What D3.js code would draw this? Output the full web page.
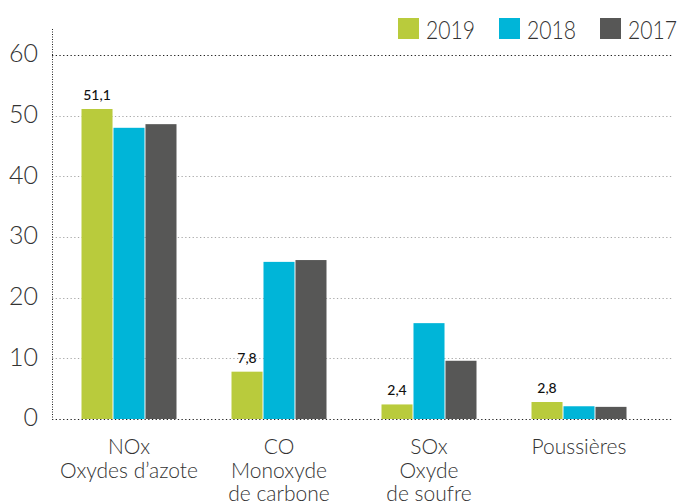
<!DOCTYPE html>
<html>
<head>
<meta charset="utf-8">
<script src="https://cdn.jsdelivr.net/npm/d3@7"></script>
<style>
  body { margin: 0; background: #fff; }
  text { font-family: Lato, "Open Sans", sans-serif; }
</style>
</head>
<body>
<div id="chart"></div>
<script>
// data
let categories = ['NOx', 'CO', 'SOx', 'Poussières']
let categoryLines = [
  ['NOx', 'Oxydes d’azote'],
  ['CO', 'Monoxyde', 'de carbone'],
  ['SOx', 'Oxyde', 'de soufre'],
  ['Poussières']
]
let years = ['2019', '2018', '2017']
let values2019 = [51.1, 7.8, 2.4, 2.8]
let values2018 = [48.0, 25.9, 15.8, 2.1]
let values2017 = [48.6, 26.2, 9.6, 2.0]
let labels2019 = ['51,1', '7,8', '2,4', '2,8']
let yTicks = [0, 10, 20, 30, 40, 50, 60]

let colors = { '2019': '#b9cb3c', '2018': '#00b5d8', '2017': '#575756' }

let width = 678, height = 503

let svg = d3.select('#chart').append('svg')
  .attr('width', width)
  .attr('height', height)

let y = d3.scaleLinear().domain([0, 60]).range([419, 55])

let x0 = d3.scaleBand()
  .domain(categories)
  .range([54, 654])
  .paddingInner(0)
  .paddingOuter(0)

let x1 = d3.scaleBand()
  .domain(years)
  .range([(x0.bandwidth() - 95) / 2, (x0.bandwidth() + 95) / 2])
  .paddingInner(0.03)

let axisLeft = 52, axisRight = 673

// gridlines
svg.append('g').selectAll('line')
  .data(yTicks.filter(t => t > 0))
  .join('line')
  .attr('x1', axisLeft)
  .attr('x2', axisRight)
  .attr('y1', d => Math.round(y(d)) + 0.5)
  .attr('y2', d => Math.round(y(d)) + 0.5)
  .attr('stroke', d => d === 60 ? '#222' : '#aaa')
  .attr('stroke-width', 1)
  .attr('stroke-dasharray', '1.3,2.4')

// y tick labels
svg.append('g').selectAll('text')
  .data(yTicks)
  .join('text')
  .attr('x', 38)
  .attr('y', d => y(d) + 1)
  .attr('text-anchor', 'end')
  .attr('dominant-baseline', 'middle')
  .attr('font-size', 25)
  .attr('font-weight', 300)
  .attr('fill', '#333')
  .text(d => d)

// bars
let rows = [values2019, values2018, values2017]
let groups = svg.append('g').selectAll('g')
  .data(categories)
  .join('g')
  .attr('transform', d => `translate(${x0(d)},0)`)

groups.selectAll('rect')
  .data((d, ci) => years.map((yr, yi) => ({ year: yr, value: rows[yi][ci] })))
  .join('rect')
  .attr('x', d => x1(d.year))
  .attr('width', x1.bandwidth())
  .attr('y', d => y(d.value))
  .attr('height', d => y(0) - y(d.value))
  .attr('fill', d => colors[d.year])

// value labels for 2019
groups.append('text')
  .attr('x', x1('2019') + x1.bandwidth() / 2)
  .attr('y', (d, i) => y(values2019[i]) - 9)
  .attr('text-anchor', 'middle')
  .attr('font-size', 14)
  .attr('font-weight', 500)
  .attr('font-family', '"Open Sans", sans-serif')
  .attr('fill', '#111')
  .text((d, i) => labels2019[i])

// baseline and y axis line
svg.append('line')
  .attr('x1', axisLeft).attr('x2', axisRight)
  .attr('y1', y(0) + 0.5).attr('y2', y(0) + 0.5)
  .attr('stroke', '#222')
  .attr('stroke-dasharray', '1.3,2.4')

svg.append('line')
  .attr('x1', axisLeft + 0.5).attr('x2', axisLeft + 0.5)
  .attr('y1', 29).attr('y2', y(0))
  .attr('stroke', '#222')
  .attr('stroke-dasharray', '1,1.5')

// category labels
let catLabels = svg.append('g').selectAll('text')
  .data(categories)
  .join('text')
  .attr('x', d => x0(d) + x0.bandwidth() / 2)
  .attr('y', 454)
  .attr('text-anchor', 'middle')
  .attr('font-size', 21)
  .attr('font-weight', 300)
  .attr('fill', '#333')

catLabels.selectAll('tspan')
  .data((d, i) => categoryLines[i])
  .join('tspan')
  .attr('x', function () { return d3.select(this.parentNode).attr('x') })
  .attr('dy', (d, i) => i === 0 ? 0 : 23.5)
  .text(d => d)

// legend
let legendX = [398, 499, 600]
let legend = svg.append('g').selectAll('g')
  .data(years)
  .join('g')
  .attr('transform', (d, i) => `translate(${legendX[i]},18)`)

legend.append('rect')
  .attr('width', 21)
  .attr('height', 21)
  .attr('fill', d => colors[d])

legend.append('text')
  .attr('x', 28)
  .attr('y', 21)
  .attr('font-size', 25)
  .attr('font-weight', 300)
  .attr('fill', '#333')
  .attr('textLength', 49)
  .attr('lengthAdjust', 'spacingAndGlyphs')
  .text(d => d)
</script>
</body>
</html>
